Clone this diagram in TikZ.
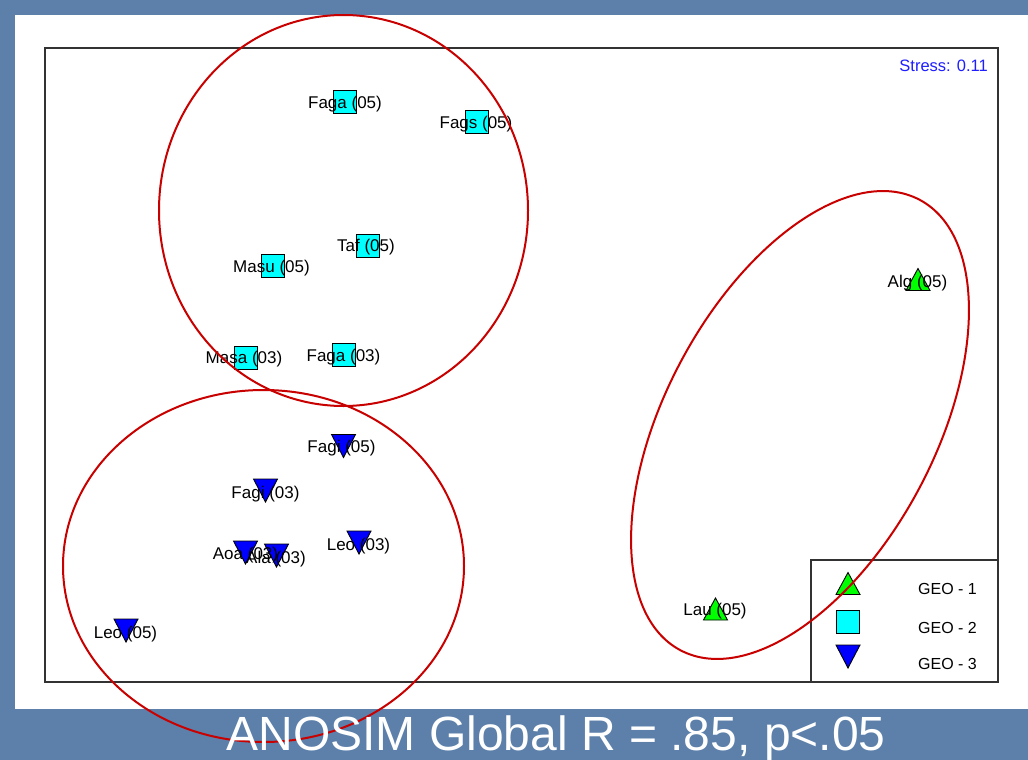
\documentclass[tikz,border=0pt]{standalone}
\usepackage{fontspec}
\setmainfont{Liberation Sans}
\newcommand{\myfs}[1]{\fontsize{#1}{#1}\selectfont}
\definecolor{bgblue}{RGB}{92,128,170}
\definecolor{ringred}{RGB}{200,0,0}
\definecolor{framegray}{RGB}{50,50,50}
\definecolor{stressblue}{RGB}{30,30,255}
\definecolor{mkcyan}{RGB}{0,255,255}
\definecolor{mkgreen}{RGB}{0,255,0}
\definecolor{mkblue}{RGB}{0,0,255}
\tikzset{
  mk/.style={draw=black, line width=0.9pt},
  pics/sq/.style={code={\draw[mk, fill=mkcyan] (-11.5,-11.5) rectangle (11.5,11.5);}},
  pics/dtri/.style={code={\draw[mk, fill=mkblue] (-12,-11.5) -- (12,-11.5) -- (0,11.5) -- cycle;}},
  pics/utri/.style={code={\draw[mk, fill=mkgreen] (-12,11) -- (12,11) -- (0,-11) -- cycle;}},
  lbl/.style={font=\myfs{17}, inner sep=0pt, text height=12pt, text depth=0pt, anchor=center},
  leg/.style={font=\myfs{16}, inner sep=0pt, anchor=base west},
  ring/.style={draw=ringred, line width=2pt},
  frame/.style={draw=framegray, line width=1.5pt}
}
\begin{document}
\begin{tikzpicture}[x=1pt,y=-1pt]
\useasboundingbox (0,0) rectangle (1028,760);
\fill[bgblue] (0,0) rectangle (1028,760);
\fill[white] (15,15) rectangle (1028,709);
% plot frame and legend box
\draw[frame] (45,48) rectangle (998,682);
\draw[frame] (811,560) rectangle (998,682);
\node[anchor=base east, font=\myfs{16.5}, text=stressblue, inner sep=0pt] (stress) at (988,71) {Stress: 0.11};
% GEO-2 squares
\pic (m1) at (345,101.5) {sq};
\pic (m2) at (477,122) {sq};
\pic (m3) at (367.5,245.5) {sq};
\pic (m4) at (273,265.5) {sq};
\pic (m5) at (245.5,357.5) {sq};
\pic (m6) at (343.5,355) {sq};
% GEO-3 down triangles
\pic (m7) at (343.5,446) {dtri};
\pic (m8) at (265.5,490.5) {dtri};
\pic (m9) at (245.5,552.5) {dtri};
\pic (m10) at (276.5,555.5) {dtri};
\pic (m11) at (359,542.5) {dtri};
\pic (m12) at (126,630.5) {dtri};
% GEO-1 up triangles
\pic (m13) at (918,279.5) {utri};
\pic (m14) at (715.5,609) {utri};
% labels
\node[lbl] (l1) at (345,102) {Faga (05)};
\node[lbl] (l2) at (476,122) {Fags (05)};
\node[lbl] (l3) at (366,245) {Taf (05)};
\node[lbl] (l4) at (271.5,266) {Masu (05)};
\node[lbl] (l5) at (244,357) {Masa (03)};
\node[lbl] (l6) at (343.5,355) {Faga (03)};
\node[lbl] (l7) at (341.5,446) {Fagi (05)};
\node[lbl] (l8) at (265.5,492) {Fagi (03)};
\node[lbl] (l9) at (245.5,553) {Aoa (03)};
\node[lbl] (l10) at (276,557) {Ala (03)};
\node[lbl] (l11) at (358.5,544) {Leo (03)};
\node[lbl] (l12) at (125.5,632) {Leo (05)};
\node[lbl] (l13) at (917.5,281) {Alg (05)};
\node[lbl] (l14) at (715,609) {Lau (05)};
% legend
\pic (k1) at (848,583.5) {utri};
\pic (k2) at (848,621.5) {sq};
\pic (k3) at (848,656.5) {dtri};
\node[leg] (g1) at (918,594.7) {GEO - 1};
\node[leg] (g2) at (918,633.7) {GEO - 2};
\node[leg] (g3) at (918,669.7) {GEO - 3};
% red rings
\draw[ring] (343.5,210.5) ellipse [x radius=184.5, y radius=195.5];
\draw[ring] (263.5,566) ellipse [x radius=200.5, y radius=176];
\begin{scope}[shift={(800,425)}, rotate=62]
\draw[ring] (0,0) ellipse [x radius=255, y radius=135];
\end{scope}
% title
\node[font=\myfs{48}, text=white, anchor=base, inner sep=0pt] (title) at (556,750) {ANOSIM Global R = .85, p<.05};
\end{tikzpicture}
\end{document}
